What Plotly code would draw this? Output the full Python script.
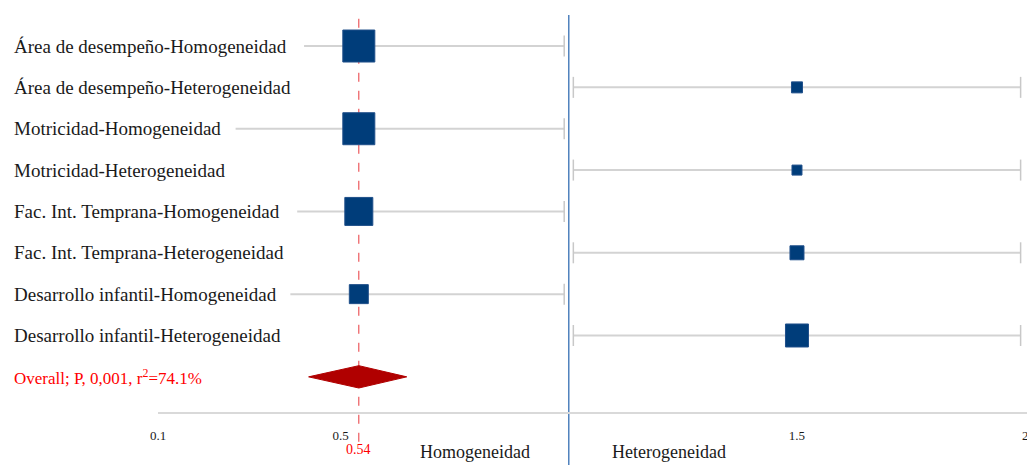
import plotly.graph_objects as go

# ---------------- data ----------------
categories = [
    "Área de desempeño-Homogeneidad",
    "Área de desempeño-Heterogeneidad",
    "Motricidad-Homogeneidad",
    "Motricidad-Heterogeneidad",
    "Fac. Int. Temprana-Homogeneidad",
    "Fac. Int. Temprana-Heterogeneidad",
    "Desarrollo infantil-Homogeneidad",
    "Desarrollo infantil-Heterogeneidad",
]
groups = ["Homo", "Hetero", "Homo", "Hetero", "Homo", "Hetero", "Homo", "Hetero"]
estimates = [0.54, 1.50, 0.54, 1.50, 0.54, 1.50, 0.54, 1.50]
ci_low = [0.42, 1.01, 0.27, 1.01, 0.405, 1.01, 0.39, 1.01]
ci_high = [0.99, 1.99, 0.99, 1.99, 0.99, 1.99, 0.99, 1.99]
weights = [16.0, 5.5, 16.0, 5.0, 14.0, 7.0, 9.5, 11.5]

overall_label = "Overall; P, 0,001, r<sup>2</sup>=74.1%"
overall_est = 0.54
overall_low = 0.43
overall_high = 0.645

tick_vals = [0.1, 0.5, 1.5, 2.0]
tick_text = ["0.1", "0.5", "1.5", "2"]
null_line = 1.0
side_labels = ["Homogeneidad", "Heterogeneidad"]

# ---------------- figure ----------------
SERIF = "Liberation Serif, Times New Roman, serif"
rows = list(range(len(categories)))
overall_row = len(categories)

# the page body adds an 8px offset, so the figure is sized to the visible area
FIG_W, FIG_H = 1027, 457
plot_l, plot_r, plot_t, plot_b = 150, 8, 7, 53
plot_w = FIG_W - plot_l - plot_r
plot_h = FIG_H - plot_t - plot_b

fig = go.Figure()

# reference lines (below the marks)
fig.add_shape(type="line", xref="x", yref="paper", x0=null_line, x1=null_line,
              y0=-0.135, y1=1.0, layer="below", line=dict(color="#4f81bd", width=1.5))
fig.add_shape(type="line", xref="x", yref="paper", x0=overall_est, x1=overall_est,
              y0=-0.075, y1=1.0, layer="below", line=dict(color="#e8383d", width=1, dash="dash"))

# CI lines
for i in rows:
    fig.add_trace(go.Scatter(
        x=[ci_low[i], ci_high[i]], y=[i, i], mode="lines",
        line=dict(color="#d3d3d3", width=2), hoverinfo="skip", showlegend=False))

# caps
cap_x, cap_y = [], []
for i in rows:
    cap_x.append(ci_high[i]); cap_y.append(i)
    if groups[i] == "Hetero":
        cap_x.append(ci_low[i]); cap_y.append(i)
fig.add_trace(go.Scatter(
    x=cap_x, y=cap_y, mode="markers",
    marker=dict(symbol="line-ns", size=15, opacity=1, line=dict(color="#c8c8c8", width=1.5)),
    hoverinfo="skip", showlegend=False))

# squares
fig.add_trace(go.Scatter(
    x=estimates, y=rows, mode="markers",
    marker=dict(symbol="square", size=[w * 2 for w in weights], color="#003d7a", opacity=1,
                line=dict(color="#1f4f8a", width=1)),
    showlegend=False))

# overall diamond
h = 0.27
fig.add_trace(go.Scatter(
    x=[overall_low, overall_est, overall_high, overall_est, overall_low],
    y=[overall_row, overall_row - h, overall_row, overall_row + h, overall_row],
    mode="lines", fill="toself", fillcolor="#b00000",
    line=dict(color="#b00000", width=1), showlegend=False, hoverinfo="skip"))

# category labels
label_x = -(plot_l - 4) / plot_w
for i in rows:
    fig.add_annotation(x=label_x, xref="paper", y=i, yref="y", text=categories[i],
                       showarrow=False, xanchor="left", yanchor="middle",
                       font=dict(family=SERIF, size=19, color="#1a1a1a"))
fig.add_annotation(x=label_x, xref="paper", y=overall_row, yref="y", text=overall_label,
                   showarrow=False, xanchor="left", yanchor="middle",
                   font=dict(family=SERIF, size=17, color="#ff0000"))

# 0.54 label
fig.add_annotation(x=overall_est, xref="x", y=-0.095, yref="paper", text=f"{overall_est:.2f}",
                   showarrow=False, xanchor="center", yanchor="middle",
                   font=dict(family=SERIF, size=14, color="#ff0000"))

# side labels (kept just inside the bottom edge)
side_y = -(plot_b - 1) / plot_h
fig.add_annotation(x=0.795, xref="x", y=side_y, yref="paper", text=side_labels[0],
                   showarrow=False, xanchor="center", yanchor="bottom",
                   font=dict(family=SERIF, size=18, color="#1a1a1a"))
fig.add_annotation(x=1.22, xref="x", y=side_y, yref="paper", text=side_labels[1],
                   showarrow=False, xanchor="center", yanchor="bottom",
                   font=dict(family=SERIF, size=18, color="#1a1a1a"))

fig.update_xaxes(range=[0.1, 2.004], tickvals=tick_vals, ticktext=tick_text,
                 showgrid=False, zeroline=False, showline=True, linecolor="#d9d9d9",
                 linewidth=1.5, ticks="", ticklabelstandoff=11, automargin=False,
                 tickfont=dict(family=SERIF, size=13, color="#1a1a1a"))
fig.update_yaxes(range=[overall_row + 0.85, -0.75], showticklabels=False, automargin=False,
                 showgrid=False, zeroline=False, showline=False)

fig.update_layout(width=FIG_W, height=FIG_H,
                  margin=dict(l=plot_l, r=plot_r, t=plot_t, b=plot_b),
                  paper_bgcolor="white", plot_bgcolor="white", showlegend=False)

fig.write_html("out.html")
